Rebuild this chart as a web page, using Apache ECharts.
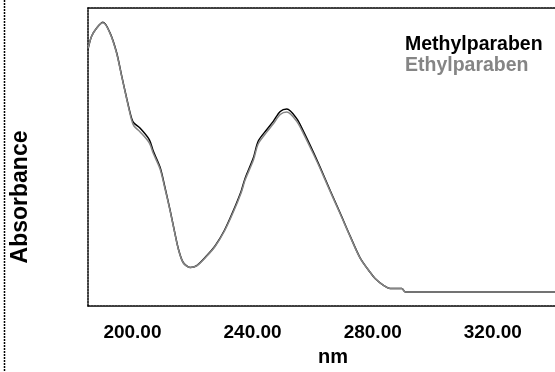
<!DOCTYPE html>
<html>
<head>
<meta charset="utf-8">
<script src="https://cdn.jsdelivr.net/npm/echarts@6/dist/echarts.min.js"></script>
<style>
  html, body { margin: 0; padding: 0; background: #fff; }
  #chart { width: 555px; height: 372px; }
</style>
</head>
<body>
<div id="chart"></div>
<script>
// UV absorption spectra (wavelength in nm, absorbance in arbitrary units)
const wavelengths = [185.2, 186.4, 188.1, 190.2, 192.5, 194.7, 196.4, 198.1, 199.7, 200.5,
  202.5, 205.6, 206.9, 209.2, 210.8, 212.5, 214.2, 215.3, 216.9, 219.2,
  221.4, 224.7, 227.5, 230.6, 233.4, 236.2, 237.5, 240.3, 241.9, 244.7,
  246.9, 249.2, 251.4, 254.7, 256.9, 260.3, 262.5, 265.8, 269.2, 272.5,
  275.8, 279.2, 280.8, 283.6, 285.8, 289.7, 290.8, 300, 320, 340.7];

const methylparaben = [0.987, 1.040, 1.074, 1.097, 1.055, 0.975, 0.880, 0.787, 0.707, 0.687,
  0.667, 0.620, 0.574, 0.507, 0.427, 0.335, 0.235, 0.175, 0.120, 0.100,
  0.107, 0.147, 0.187, 0.250, 0.325, 0.410, 0.462, 0.547, 0.614, 0.660,
  0.694, 0.734, 0.744, 0.705, 0.654, 0.567, 0.507, 0.414, 0.320, 0.227,
  0.139, 0.079, 0.055, 0.027, 0.014, 0.014, 0.000, 0.000, 0.000, 0.000];

const ethylparaben = [0.990, 1.040, 1.074, 1.095, 1.053, 0.972, 0.878, 0.784, 0.700, 0.675,
  0.652, 0.607, 0.565, 0.500, 0.422, 0.332, 0.233, 0.173, 0.119, 0.100,
  0.106, 0.145, 0.185, 0.247, 0.320, 0.404, 0.455, 0.538, 0.603, 0.650,
  0.684, 0.722, 0.732, 0.694, 0.645, 0.560, 0.502, 0.410, 0.317, 0.225,
  0.138, 0.079, 0.055, 0.027, 0.014, 0.014, 0.000, 0.000, 0.000, 0.000];

const xTickValues = [200, 240, 280, 320];
const seriesNames = ['Methylparaben', 'Ethylparaben'];
const axisTitles = { x: 'nm', y: 'Absorbance' };

const pairs = (xs, ys) => xs.map((x, i) => [x, ys[i]]);

const FONT = 'Liberation Sans, Arial, sans-serif';
const GREY = '#858585';
const dotted = { color: '#000', width: 1.5, type: [2, 1] };

const chart = echarts.init(document.getElementById('chart'), null, { renderer: 'canvas' });

chart.setOption({
  backgroundColor: '#fff',
  animation: false,
  textStyle: { fontFamily: FONT },
  grid: { left: 88, right: 0, top: 8, bottom: 61 },
  legend: {
    orient: 'vertical',
    left: 400,
    top: 35,
    itemWidth: 0,
    itemHeight: 0,
    itemGap: 1,
    padding: 0,
    selectedMode: false,
    textStyle: { fontFamily: FONT, fontSize: 19.5, fontWeight: 'bold' },
    data: [
      { name: seriesNames[0], icon: 'none', textStyle: { color: '#000' } },
      { name: seriesNames[1], icon: 'none', textStyle: { color: GREY } }
    ]
  },
  xAxis: [
    {
      type: 'value',
      min: 185.2,
      max: 340.7,
      position: 'bottom',
      name: axisTitles.x,
      nameLocation: 'middle',
      nameGap: 41,
      nameTextStyle: { fontFamily: FONT, fontSize: 20, fontWeight: 'bold', color: '#000', padding: [0, 0, 0, 23] },
      axisLine: { show: true, onZero: false, lineStyle: dotted },
      axisTick: { show: false },
      splitLine: { show: false },
      axisLabel: {
        customValues: xTickValues,
        formatter: v => v.toFixed(2),
        margin: 17,
        fontFamily: FONT,
        fontSize: 19,
        fontWeight: 'bold',
        color: '#000'
      }
    },
    {
      type: 'value',
      min: 185.2,
      max: 340.7,
      position: 'top',
      axisLine: { show: true, onZero: false, lineStyle: dotted },
      axisTick: { show: false },
      axisLabel: { show: false },
      splitLine: { show: false }
    }
  ],
  yAxis: {
    type: 'value',
    min: -0.057,
    max: 1.155,
    axisLine: { show: true, onZero: false, lineStyle: dotted },
    axisTick: { show: false },
    axisLabel: { show: false },
    splitLine: { show: false }
  },
  graphic: [
    {
      type: 'line',
      shape: { x1: 4.5, y1: 0, x2: 4.5, y2: 372 },
      style: { stroke: '#000', lineWidth: 1.5, lineDash: [2, 1] },
      silent: true
    },
    {
      type: 'text',
      x: 21,
      y: 197,
      rotation: Math.PI / 2,
      style: {
        text: axisTitles.y,
        fontFamily: FONT,
        fontSize: 23,
        fontWeight: 'bold',
        fill: '#000',
        align: 'center',
        verticalAlign: 'middle'
      },
      silent: true
    }
  ],
  series: [
    {
      name: seriesNames[0],
      type: 'line',
      xAxisIndex: 0,
      data: pairs(wavelengths, methylparaben),
      smooth: 0.3,
      showSymbol: false,
      lineStyle: { color: '#000', width: 1.5 },
      itemStyle: { color: '#000' }
    },
    {
      name: seriesNames[1],
      type: 'line',
      xAxisIndex: 0,
      data: pairs(wavelengths, ethylparaben),
      smooth: 0.3,
      showSymbol: false,
      lineStyle: { color: GREY, width: 1.5 },
      itemStyle: { color: GREY }
    }
  ]
});
</script>
</body>
</html>
